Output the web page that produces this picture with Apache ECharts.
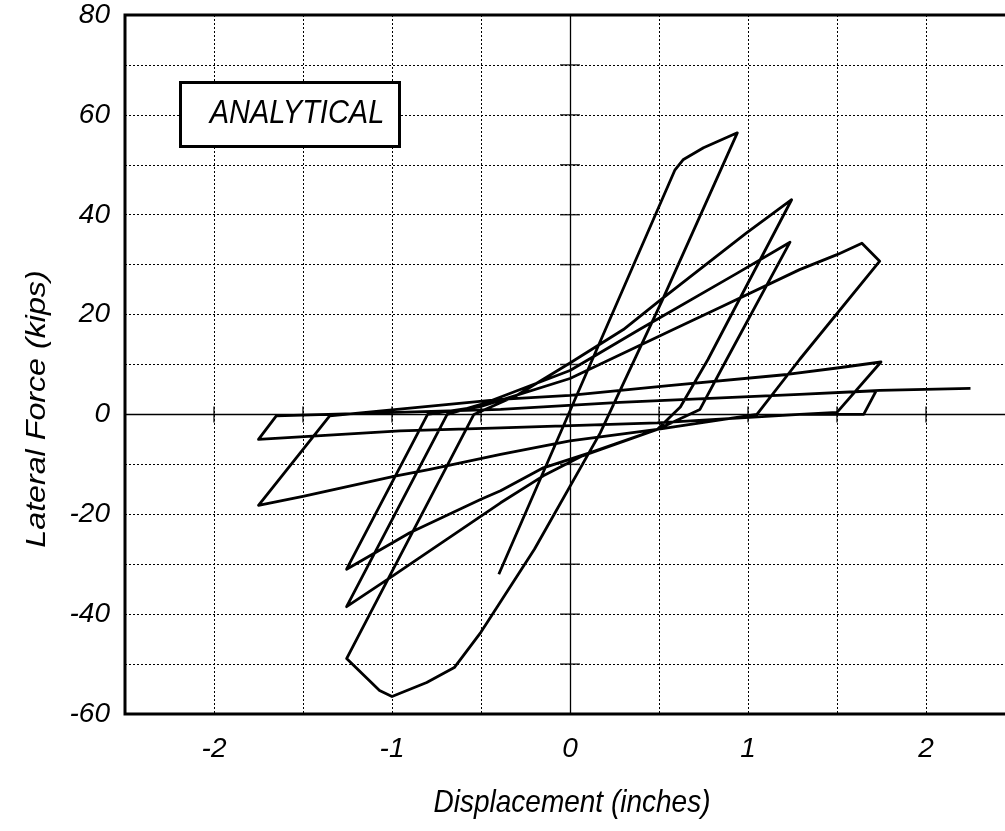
<!DOCTYPE html>
<html><head><meta charset="utf-8">
<script src="https://cdn.jsdelivr.net/npm/echarts@6/dist/echarts.min.js"></script>
<style>html,body{margin:0;padding:0;background:#fff}#c{width:1005px;height:831px}</style>
</head><body><div id="c"></div>
<script>
// Hysteresis path, in drawing order: displacement (inches) and lateral force (kips)
const dispX = [-0.40, 0.59, 0.635, 0.75, 0.94, 0.52, 0.17, -0.20, -0.43, -0.50, -0.65, -0.805, -1.00, -1.07, -1.255,
  -0.54, -0.30, 0.00, 0.30, 0.50, 0.99, 1.245, 0.775, 0.62, 0.49, 0.07, -0.15, -0.39, -1.01, -1.255,
  -0.69, -0.50, 0.00, 0.39, 0.94, 1.236, 0.88, 0.73, 0.49, 0.11, -0.15, -0.39, -0.50, -0.90, -1.255,
  -0.80, -0.50, 0.00, 0.58, 0.86, 1.29, 1.50, 1.64, 1.74, 1.29, 1.05, 0.49, 0.00, -0.39, -0.787, -0.99, -1.50, -1.75,
  -1.35, -0.39, 0.00, 0.54, 1.22, 1.50, 1.747, 1.50, 1.29, 0.49, -0.39, -0.955, -1.75,
  -1.65, -0.39, 0.28, 1.29, 1.72, 1.65, 1.29, 0.49, -0.39, -0.955, -1.75,
  -1.65, -0.39, 0.28, 1.29, 1.74, 2.25];
const force = [-32, 49, 51, 53.4, 56.4, 23, -3.7, -27, -39.7, -43.6, -50.7, -53.7, -56.5, -55.3, -48.9,
  0, 3.8, 10.3, 17, 22.7, 36.3, 43, 11, 1.5, -3, -8.3, -12.3, -17.7, -32.7, -38.5,
  0, 2, 8.8, 17, 28.3, 34.5, 11, 1, -3, -7.7, -10.7, -15.3, -17, -23.7, -31,
  0, 1.6, 7.2, 17, 21.7, 29, 32, 34.3, 30.7, 11, 0, -3, -5.3, -8, -11, -12.4, -16.4, -18.2,
  -0.3, 3, 3.8, 5.7, 8, 9.3, 10.5, 0.4, 0, -1.7, -2.7, -3.3, -5,
  -0.3, 1, 2.4, 4, 4.7, 0, 0, -1.7, -2.7, -3.3, -5,
  -0.3, 1, 2.4, 4, 4.8, 5.2];

const xTickLabels = ['-2', '-1', '0', '1', '2'];
const yTickLabels = ['-60', '-40', '-20', '0', '20', '40', '60', '80'];
const xTitle = 'Displacement (inches)';
const yTitle = 'Lateral Force (kips)';
const boxLabel = 'ANALYTICAL';

const X_MIN = -2.5, X_MAX = 2.5, X_STEP = 0.5;
const Y_MIN = -60, Y_MAX = 80, Y_STEP = 10;

const path = dispX.map((x, i) => [x, force[i]]);
const xZeroTicks = [];
for (let v = X_MIN; v <= X_MAX + 1e-9; v += X_STEP) xZeroTicks.push([v, 0]);
const yZeroTicks = [];
for (let v = Y_MIN; v <= Y_MAX + 1e-9; v += Y_STEP) yZeroTicks.push([0, v]);

const FONT = 'Liberation Sans, Arial, sans-serif';
const chart = echarts.init(document.getElementById('c'), null, {renderer: 'canvas'});
chart.setOption({
  animation: false,
  backgroundColor: '#fff',
  grid: {left: 125, top: 15, width: 890, height: 699, outerBoundsMode: 'none', containLabel: false,
         show: true, borderColor: '#000', borderWidth: 3, backgroundColor: 'transparent'},
  xAxis: {
    type: 'value', min: X_MIN, max: X_MAX, interval: X_STEP,
    axisLine: {show: false}, axisTick: {show: false},
    axisLabel: {
      margin: 21, color: '#000', fontSize: 28, fontStyle: 'italic', fontFamily: FONT,
      formatter: v => { const s = String(Math.round(v * 100) / 100); return xTickLabels.includes(s) ? s : ''; }
    },
    splitLine: {show: true, lineStyle: {color: '#000', width: 1, type: [2, 2]}}
  },
  yAxis: {
    type: 'value', min: Y_MIN, max: Y_MAX, interval: Y_STEP,
    axisLine: {show: false}, axisTick: {show: false},
    axisLabel: {
      margin: 15, color: '#000', fontSize: 28, fontStyle: 'italic', fontFamily: FONT,
      formatter: v => { const s = String(v); return yTickLabels.includes(s) ? s : ''; }
    },
    splitLine: {show: true, lineStyle: {color: '#000', width: 1, type: [2, 2]}}
  },
  graphic: [
    {type: 'text', x: 37, y: 409, rotation: Math.PI / 2, scaleX: 1.15,
     style: {text: yTitle, fill: '#000', font: 'italic 28px ' + FONT, textAlign: 'center', textVerticalAlign: 'middle'}},
    {type: 'text', x: 572, y: 803, scaleY: 1.12,
     style: {text: xTitle, fill: '#000', font: 'italic 28px ' + FONT, textAlign: 'center', textVerticalAlign: 'middle'}},
    {type: 'rect', left: 179, top: 81, shape: {width: 219, height: 64},
     style: {fill: '#fff', stroke: '#000', lineWidth: 3}, z: 100},
    {type: 'text', x: 297, y: 114, z: 101, scaleY: 1.12,
     style: {text: boxLabel, fill: '#000', font: 'italic 29px ' + FONT, textAlign: 'center', textVerticalAlign: 'middle'}}
  ],
  series: [
    {
      type: 'line', data: path, showSymbol: false, symbol: 'none', silent: true,
      lineStyle: {color: '#000', width: 2.8, join: 'round'}, z: 5,
      markLine: {
        silent: true, symbol: 'none', label: {show: false},
        lineStyle: {color: '#000', width: 1.3, type: 'solid'},
        data: [{xAxis: 0}, {yAxis: 0}], z: 3
      }
    },
    {type: 'scatter', data: xZeroTicks, symbol: 'rect', symbolSize: [1.5, 16], silent: true,
     itemStyle: {color: '#000'}, z: 3},
    {type: 'scatter', data: yZeroTicks, symbol: 'rect', symbolSize: [20, 1.5], silent: true,
     itemStyle: {color: '#000'}, z: 3}
  ]
});
</script>
</body></html>
